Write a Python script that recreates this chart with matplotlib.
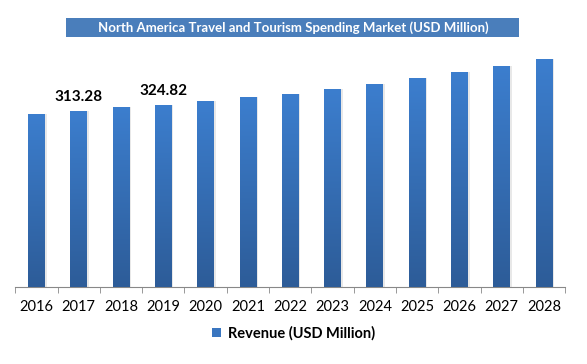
import matplotlib.pyplot as plt
import numpy as np
from matplotlib.colors import LinearSegmentedColormap
from matplotlib.patches import Patch, Rectangle

years = ['2016', '2017', '2018', '2019', '2020', '2021', '2022',
         '2023', '2024', '2025', '2026', '2027', '2028']
revenue = [307.9, 313.28, 320.4, 324.82, 331.0, 338.0, 343.5,
           352.4, 361.3, 372.0, 382.7, 393.4, 405.8]
labeled = {'2017': '313.28', '2019': '324.82'}

plt.rcParams['font.family'] = ['Lato', 'DejaVu Sans']

fig = plt.figure(figsize=(5.87, 3.64), dpi=100)
ax = fig.add_axes([0.026, 0.2115, 0.937, 0.665])

x = np.arange(len(years))
bars = ax.bar(x, revenue, width=0.4, color='#3A76C0', zorder=2)

# gradient fill, lighter at top, darker at bottom
cmap = LinearSegmentedColormap.from_list('bar', ['#2D5C98', '#3C7ECE'])
grad = np.linspace(0, 1, 256).reshape(-1, 1)
for b in bars:
    x0, w, h = b.get_x(), b.get_width(), b.get_height()
    # soft shadow
    ax.bar(x0 + w / 2 + 0.04, h, width=w, color='#e8e8e8', zorder=1)
    im = ax.imshow(grad, extent=[x0, x0 + w, 0, h], origin='lower',
                   cmap=cmap, aspect='auto', zorder=3)
    im.set_clip_path(b)
    b.set_facecolor('none')

for i, yr in enumerate(years):
    if yr in labeled:
        ax.text(i, revenue[i] + 12, labeled[yr], ha='center', va='bottom',
                fontsize=11, fontweight='bold', color='black')

ax.set_xlim(-0.5, len(years) - 0.5)
ax.set_ylim(0, 431)
ax.set_xticks(x)
ax.set_xticklabels(years, fontsize=10.5)
ax.set_xticks(np.arange(-0.5, len(years)), minor=True)
ax.tick_params(axis='x', which='major', length=0, pad=9)
ax.tick_params(axis='x', which='minor', length=4, color='#888888')
ax.set_yticks([])
for s in ['top', 'right', 'left']:
    ax.spines[s].set_visible(False)
ax.spines['bottom'].set_color('#888888')

# title box
fig.patches.append(Rectangle((66 / 587, 1 - 37 / 364), 453 / 587, 19 / 364,
                             transform=fig.transFigure, facecolor='#4A7EBB',
                             edgecolor='none'))
fig.text(0.5, 1 - 27.5 / 364, 'North America Travel and Tourism Spending Market (USD Million)',
         ha='center', va='center', fontsize=9.5, fontweight='bold', color='white')

handle = Patch(facecolor='#3A76C0', label='Revenue (USD Million)')
fig.legend(handles=[handle], loc='center', bbox_to_anchor=(0.5, 0.085),
           frameon=False, handlelength=0.6, handleheight=0.6, handletextpad=0.5,
           prop={'weight': 'bold', 'size': 10.5})

fig.savefig('out.png', dpi=100)
